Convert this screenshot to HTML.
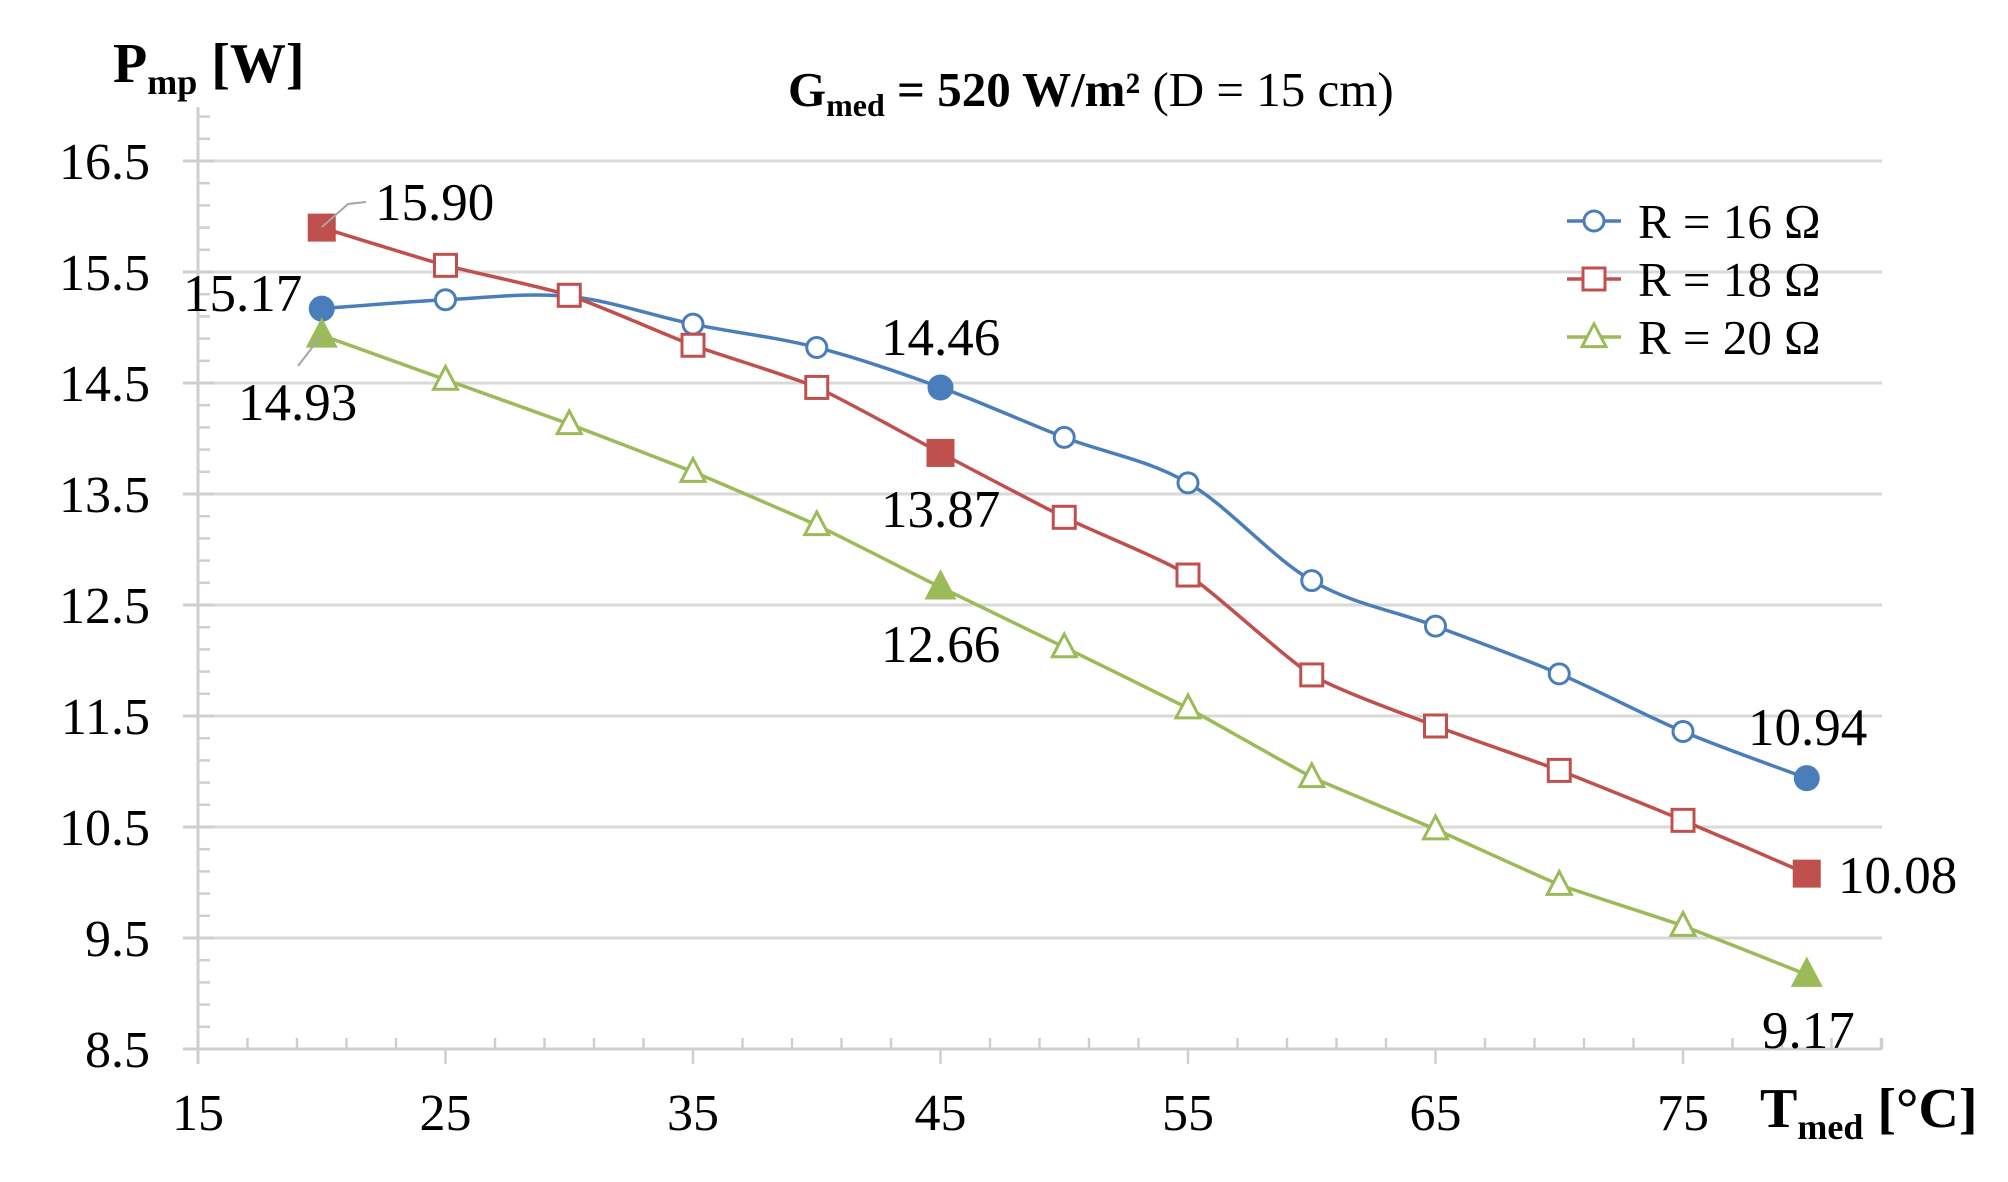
<!DOCTYPE html>
<html><head><meta charset="utf-8"><style>
html,body{margin:0;padding:0;background:#fff;}
svg{display:block;font-family:"Liberation Serif",serif;}
</style></head><body>
<svg id="s" width="2008" height="1182" viewBox="0 0 2008 1182" xmlns="http://www.w3.org/2000/svg">
<g id="grid"></g>
<g id="series"></g>
<g font-size="52" fill="#000" text-anchor="end" id="ylab">
<text x="150" y="179">16.5</text>
<text x="150" y="290">15.5</text>
<text x="150" y="401">14.5</text>
<text x="150" y="512">13.5</text>
<text x="150" y="623">12.5</text>
<text x="150" y="734">11.5</text>
<text x="150" y="845">10.5</text>
<text x="150" y="956">9.5</text>
<text x="150" y="1067">8.5</text>
</g>
<g font-size="52" fill="#000" text-anchor="middle">
<text x="198" y="1130">15</text>
<text x="445.5" y="1130">25</text>
<text x="693" y="1130">35</text>
<text x="940.5" y="1130">45</text>
<text x="1188" y="1130">55</text>
<text x="1435.5" y="1130">65</text>
<text x="1683" y="1130">75</text>
</g>
<text x="113" y="82" font-size="56" font-weight="bold">P<tspan font-size="36" dy="12">mp</tspan><tspan dy="-12"> [W]</tspan></text>
<text x="1760" y="1127" font-size="56" font-weight="bold">T<tspan font-size="36" dy="12">med</tspan><tspan dy="-12"> [°C]</tspan></text>
<text x="788" y="106" font-size="49" font-weight="bold">G<tspan font-size="32" dy="10">med</tspan><tspan dy="-10"> = 520 W/m²</tspan><tspan font-weight="normal"> (D = 15 cm)</tspan></text>
<g font-size="53" fill="#000">
<text x="375" y="220">15.90</text>
<text x="183" y="311">15.17</text>
<text x="238" y="420">14.93</text>
<text x="881" y="355">14.46</text>
<text x="881" y="527">13.87</text>
<text x="881" y="662">12.66</text>
<text x="1748" y="745">10.94</text>
<text x="1838" y="893">10.08</text>
<text x="1762" y="1048">9.17</text>
</g>
<polyline points="322,227 348,204 366,202" fill="none" stroke="#a6a6a6" stroke-width="2"/>
<polyline points="321,336 298,366" fill="none" stroke="#a6a6a6" stroke-width="2"/>
<g font-size="49" fill="#000">
<text x="1638" y="238">R = 16 Ω</text>
<text x="1638" y="296">R = 18 Ω</text>
<text x="1638" y="354">R = 20 Ω</text>
</g>
<g id="legend"></g>
</svg>
<script>
var NS="http://www.w3.org/2000/svg";
function el(p,t,a){var e=document.createElementNS(NS,t);for(var k in a)e.setAttribute(k,a[k]);p.appendChild(e);return e;}
function X(t){return 198+(t-15)*24.75;}
function Y(v){return 161+(16.5-v)*111;}
var g=document.getElementById('grid');
var gc="#d9d9d9";
for(var v=9.5;v<=16.5;v+=1){el(g,'line',{x1:198,x2:1882,y1:Y(v),y2:Y(v),stroke:gc,'stroke-width':3});}
el(g,'line',{x1:183,x2:1882,y1:1049,y2:1049,stroke:"#cfcfcf",'stroke-width':3});
el(g,'line',{x1:198,x2:198,y1:107,y2:1064,stroke:"#cfcfcf",'stroke-width':3});
for(var i=0;i<=42;i++){var v2=8.5+i*0.2;var y=Y(v2);if(y<107)continue;
 if(i%5==0){el(g,'line',{x1:183,x2:214,y1:y,y2:y,stroke:"#cfcfcf",'stroke-width':3});}
 else el(g,'line',{x1:198,x2:210,y1:y,y2:y,stroke:"#cfcfcf",'stroke-width':2.5});}
for(var t=15;t<=83;t+=2){var x=X(t);if(x>1883)break;
 if((t-15)%10==0)el(g,'line',{x1:x,x2:x,y1:1049,y2:1064,stroke:"#cfcfcf",'stroke-width':2.5});
 else el(g,'line',{x1:x,x2:x,y1:1038,y2:1049,stroke:"#cfcfcf",'stroke-width':2.5});}
el(g,'line',{x1:1882,x2:1882,y1:1038,y2:1049,stroke:"#cfcfcf",'stroke-width':2.5});
var T=[20,25,30,35,40,45,50,55,60,65,70,75,80];
var S=[
 {c:"#4a7ebb",m:"c",smooth:1,d:[15.17,15.25,15.28,15.03,14.82,14.46,14.01,13.6,12.72,12.31,11.88,11.36,10.94],f:[0,5,12]},
 {c:"#c0504d",m:"s",smooth:0.6,d:[15.90,15.56,15.29,14.84,14.46,13.87,13.29,12.77,11.87,11.41,11.01,10.56,10.08],f:[0,5,12]},
 {c:"#9bbb59",m:"t",smooth:0.3,d:[14.93,14.53,14.13,13.7,13.22,12.66,12.12,11.57,10.95,10.48,9.98,9.61,9.17],f:[0,5,12]}];
var sg=document.getElementById('series');
function marker(p,m,x,y,c,fill){
 if(m=="c")el(p,'circle',{cx:x,cy:y,r:fill?11.5:10,fill:fill?c:"#fff",stroke:c,'stroke-width':3});
 else if(m=="s"){var h=fill?12.5:11;el(p,'rect',{x:x-h,y:y-h,width:2*h,height:2*h,fill:fill?c:"#fff",stroke:c,'stroke-width':3});}
 else {var h=fill?13.5:12;el(p,'polygon',{points:(x-h)+","+(y+h*0.8)+" "+(x+h)+","+(y+h*0.8)+" "+x+","+(y-h*1.1),fill:fill?c:"#fff",stroke:c,'stroke-width':3});}
}
S.forEach(function(s){
 var P=T.map(function(t,i){return [X(t),Y(s.d[i])];});
 var k=s.smooth/6,d="M"+P[0][0]+","+P[0][1];
 for(var i=0;i<P.length-1;i++){var p0=P[Math.max(0,i-1)],p1=P[i],p2=P[i+1],p3=P[Math.min(P.length-1,i+2)];
  d+=" C"+(p1[0]+(p2[0]-p0[0])*k)+","+(p1[1]+(p2[1]-p0[1])*k)+" "+(p2[0]-(p3[0]-p1[0])*k)+","+(p2[1]-(p3[1]-p1[1])*k)+" "+p2[0]+","+p2[1];}
 el(sg,'path',{d:d,fill:"none",stroke:s.c,'stroke-width':3.5});
 P.forEach(function(p,i){marker(sg,s.m,p[0],p[1],s.c,s.f.indexOf(i)>=0);});
});
var lg=document.getElementById('legend');
[[221,0],[279,1],[337,2]].forEach(function(a){var s=S[a[1]];
 el(lg,'line',{x1:1567,x2:1621,y1:a[0],y2:a[0],stroke:s.c,'stroke-width':3.5});
 marker(lg,s.m,1594,a[0],s.c,false);});
</script>
</body></html>
